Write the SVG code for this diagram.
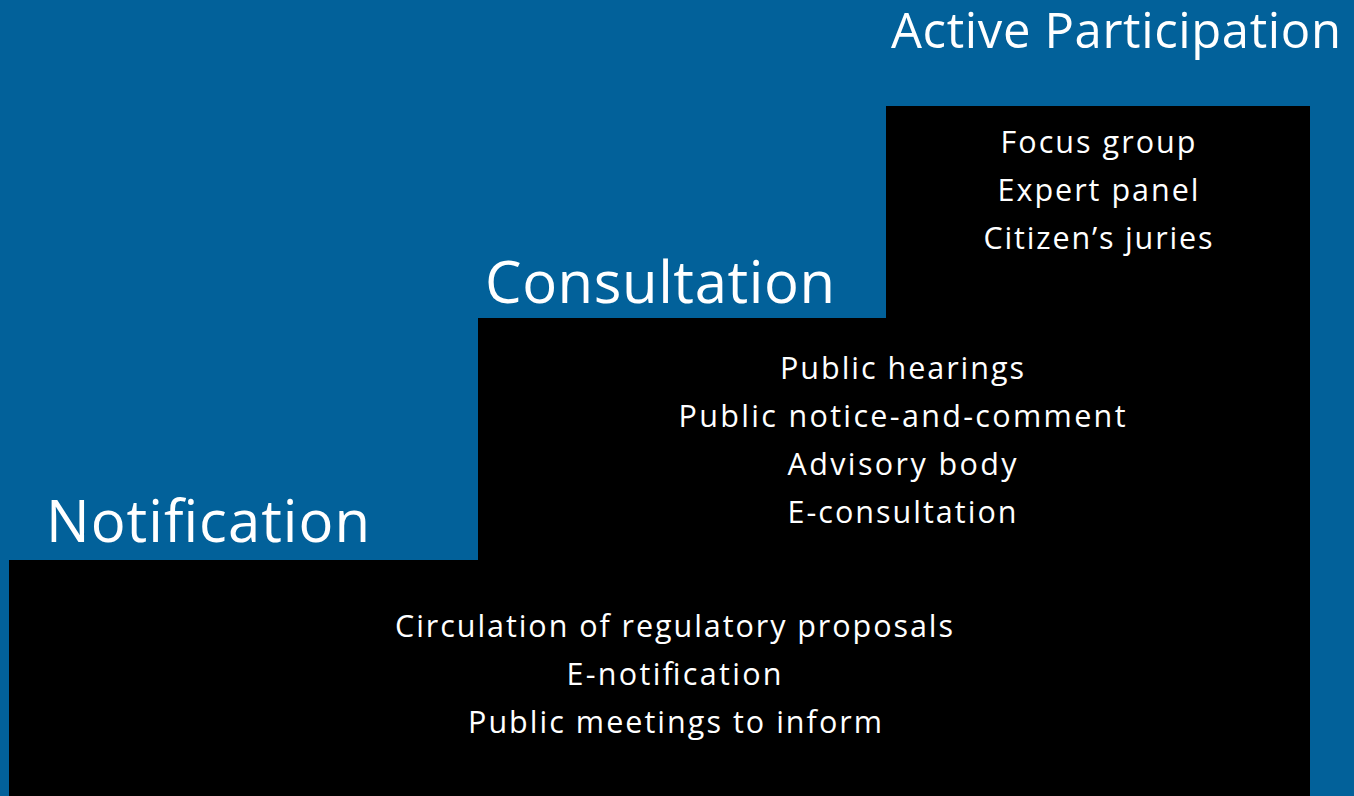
<svg xmlns="http://www.w3.org/2000/svg" width="1354" height="796" viewBox="0 0 1354 796">
<style>
.t{font-family:"Open Sans","Noto Sans","Liberation Sans",sans-serif;fill:#ffffff}
.title{font-size:58px}
.body{font-size:30.5px;text-anchor:middle}
.step{fill:#000000}
</style>
<rect x="0" y="0" width="1354" height="796" fill="#02619A"/>
<g id="step-active">
<rect class="step" x="886" y="106" width="424" height="690"/>
<text class="t title" x="891" y="48" style="font-size:49px" textLength="450">Active Participation</text>
<text class="t body" x="1098" y="153" textLength="195">Focus group</text>
<text class="t body" x="1098" y="201" textLength="201">Expert panel</text>
<text class="t body" x="1098" y="249" textLength="229">Citizen’s juries</text>
</g>
<g id="step-consultation">
<rect class="step" x="478" y="318" width="832" height="478"/>
<text class="t title" x="485" y="303" textLength="350">Consultation</text>
<text class="t body" x="902" y="379" textLength="244">Public hearings</text>
<text class="t body" x="902" y="427" textLength="447">Public notice-and-comment</text>
<text class="t body" x="902" y="475" textLength="229">Advisory body</text>
<text class="t body" x="902" y="523" textLength="229">E-consultation</text>
</g>
<g id="step-notification">
<rect class="step" x="9" y="560" width="1301" height="236"/>
<text class="t title" x="46" y="542" textLength="324">Notification</text>
<text class="t body" x="674" y="637" textLength="558">Circulation of regulatory proposals</text>
<text class="t body" x="674" y="685" textLength="215">E-notification</text>
<text class="t body" x="675" y="733" textLength="414">Public meetings to inform</text>
</g>
<g id="connectors"></g>
</svg>
